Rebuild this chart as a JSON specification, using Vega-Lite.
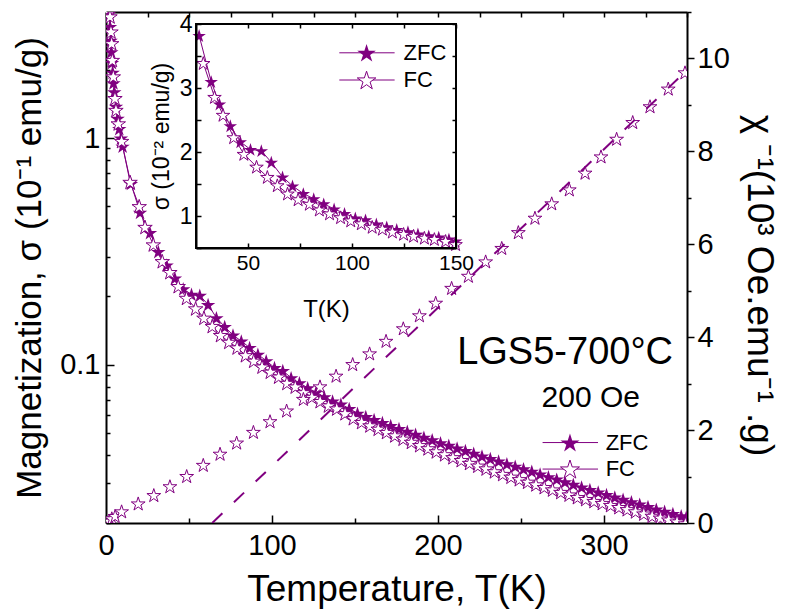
{
  "$schema": "https://vega.github.io/schema/vega-lite/v6.json",
  "width": 581,
  "height": 511,
  "autosize": {"type": "none"},
  "padding": {"left": 106, "top": 12, "right": 98, "bottom": 90},
  "background": "white",
  "config": {
    "view": {"stroke": null},
    "font": "Liberation Sans",
    "axis": {"grid": false, "domainColor": "black", "domainWidth": 2, "tickColor": "black", "tickWidth": 1.5, "labelColor": "black", "titleColor": "black", "titleFontWeight": "normal", "labelFont": "Liberation Sans", "titleFont": "Liberation Sans", "labelFontSize": 29, "titleFontSize": 35, "labelOverlap": false, "labelBound": false, "labelFlush": false},
    "text": {"font": "Liberation Sans", "color": "black"}
  },
  "datasets": {
    "zfc": [
      {"T": 2, "M": 3.55}, {"T": 2.4, "M": 3.1}, {"T": 2.8, "M": 2.7}, {"T": 3.2, "M": 2.4}, {"T": 3.6, "M": 2.15}, {"T": 4, "M": 1.95}, {"T": 4.5, "M": 1.75}, {"T": 5, "M": 1.6}, {"T": 6, "M": 1.38}, {"T": 7, "M": 1.22}, {"T": 8, "M": 1.1}, {"T": 9, "M": 1.0}, {"T": 10, "M": 0.92}, {"T": 15, "M": 0.63}, {"T": 20.5, "M": 0.47}, {"T": 26.5, "M": 0.382}, {"T": 31.5, "M": 0.315}, {"T": 36.5, "M": 0.275}, {"T": 41.5, "M": 0.241}, {"T": 46.5, "M": 0.216}, {"T": 51.5, "M": 0.204}, {"T": 56.5, "M": 0.202}, {"T": 61.5, "M": 0.184}, {"T": 66.5, "M": 0.161}, {"T": 71.5, "M": 0.147}, {"T": 76.5, "M": 0.135}, {"T": 81.5, "M": 0.127}, {"T": 86.5, "M": 0.119}, {"T": 91.5, "M": 0.111}, {"T": 96.5, "M": 0.104}, {"T": 101.5, "M": 0.097}, {"T": 106.5, "M": 0.094}, {"T": 111.5, "M": 0.0875}, {"T": 116.5, "M": 0.083}, {"T": 121.5, "M": 0.079}, {"T": 126.5, "M": 0.0755}, {"T": 131.5, "M": 0.072}, {"T": 136.5, "M": 0.069}, {"T": 141.5, "M": 0.067}, {"T": 146.5, "M": 0.064}, {"T": 151.5, "M": 0.061}, {"T": 156.5, "M": 0.059}, {"T": 161.5, "M": 0.0572}, {"T": 166.5, "M": 0.0555}, {"T": 171.5, "M": 0.0538}, {"T": 176.5, "M": 0.0522}, {"T": 181.5, "M": 0.0507}, {"T": 186.5, "M": 0.0492}, {"T": 191.5, "M": 0.0478}, {"T": 196.5, "M": 0.0465}, {"T": 201.5, "M": 0.0452}, {"T": 206.5, "M": 0.044}, {"T": 211.5, "M": 0.0428}, {"T": 216.5, "M": 0.0417}, {"T": 221.5, "M": 0.0406}, {"T": 226.5, "M": 0.0395}, {"T": 231.5, "M": 0.0385}, {"T": 236.5, "M": 0.0375}, {"T": 241.5, "M": 0.0365}, {"T": 246.5, "M": 0.0356}, {"T": 251.5, "M": 0.0347}, {"T": 256.5, "M": 0.0338}, {"T": 261.5, "M": 0.0329}, {"T": 266.5, "M": 0.032}, {"T": 271.5, "M": 0.0312}, {"T": 276.5, "M": 0.0304}, {"T": 281.5, "M": 0.0296}, {"T": 286.5, "M": 0.0288}, {"T": 291.5, "M": 0.0281}, {"T": 296.5, "M": 0.0274}, {"T": 301.5, "M": 0.0267}, {"T": 306.5, "M": 0.026}, {"T": 311.5, "M": 0.0254}, {"T": 316.5, "M": 0.0248}, {"T": 321.5, "M": 0.0242}, {"T": 326.5, "M": 0.0236}, {"T": 331.5, "M": 0.023}, {"T": 336.5, "M": 0.0225}, {"T": 341.5, "M": 0.022}, {"T": 346.5, "M": 0.0215}, {"T": 349.5, "M": 0.0212}
    ],
    "fc": [
      {"T": 2, "M": 3.75}, {"T": 2.4, "M": 3.44}, {"T": 3.0, "M": 2.95}, {"T": 3.4, "M": 2.62}, {"T": 3.8, "M": 2.21}, {"T": 4.4, "M": 1.87}, {"T": 5.4, "M": 1.5}, {"T": 6.0, "M": 1.33}, {"T": 7.4, "M": 1.16}, {"T": 9.4, "M": 0.97}, {"T": 14.5, "M": 0.64}, {"T": 20, "M": 0.5}, {"T": 23.5, "M": 0.405}, {"T": 28.5, "M": 0.339}, {"T": 33.9, "M": 0.286}, {"T": 38.5, "M": 0.256}, {"T": 43.5, "M": 0.222}, {"T": 48.5, "M": 0.197}, {"T": 54, "M": 0.177}, {"T": 59, "M": 0.161}, {"T": 64, "M": 0.148}, {"T": 69, "M": 0.135}, {"T": 74, "M": 0.126}, {"T": 79, "M": 0.119}, {"T": 84, "M": 0.11}, {"T": 89, "M": 0.104}, {"T": 94, "M": 0.098}, {"T": 99, "M": 0.093}, {"T": 104, "M": 0.0885}, {"T": 109, "M": 0.083}, {"T": 114, "M": 0.08}, {"T": 119, "M": 0.0755}, {"T": 124, "M": 0.072}, {"T": 129, "M": 0.069}, {"T": 134, "M": 0.066}, {"T": 139, "M": 0.064}, {"T": 144, "M": 0.061}, {"T": 149, "M": 0.058}, {"T": 154, "M": 0.0558}, {"T": 159, "M": 0.0539}, {"T": 164, "M": 0.0521}, {"T": 169, "M": 0.0504}, {"T": 174, "M": 0.0487}, {"T": 179, "M": 0.0471}, {"T": 184, "M": 0.0456}, {"T": 189, "M": 0.0441}, {"T": 194, "M": 0.0427}, {"T": 199, "M": 0.0414}, {"T": 204, "M": 0.0402}, {"T": 209, "M": 0.039}, {"T": 214, "M": 0.0379}, {"T": 219, "M": 0.0368}, {"T": 224, "M": 0.0358}, {"T": 229, "M": 0.0348}, {"T": 234, "M": 0.0338}, {"T": 239, "M": 0.0329}, {"T": 244, "M": 0.032}, {"T": 249, "M": 0.0312}, {"T": 254, "M": 0.0304}, {"T": 259, "M": 0.0296}, {"T": 264, "M": 0.0288}, {"T": 269, "M": 0.0281}, {"T": 274, "M": 0.0274}, {"T": 279, "M": 0.0267}, {"T": 284, "M": 0.026}, {"T": 289, "M": 0.0255}, {"T": 294, "M": 0.025}, {"T": 299, "M": 0.0245}, {"T": 304, "M": 0.024}, {"T": 309, "M": 0.0235}, {"T": 314, "M": 0.023}, {"T": 319, "M": 0.0225}, {"T": 324, "M": 0.022}, {"T": 329, "M": 0.0215}, {"T": 334, "M": 0.0211}, {"T": 339, "M": 0.0207}, {"T": 344, "M": 0.0203}, {"T": 349, "M": 0.0199}
    ],
    "chi": [
      {"T": 2, "C": 0.05}, {"T": 3.5, "C": 0.1}, {"T": 5.5, "C": 0.15}, {"T": 9.4, "C": 0.25}, {"T": 19.4, "C": 0.42}, {"T": 28.8, "C": 0.6}, {"T": 38.5, "C": 0.79}, {"T": 48.6, "C": 1.01}, {"T": 58.6, "C": 1.25}, {"T": 68.7, "C": 1.49}, {"T": 78.7, "C": 1.73}, {"T": 88.8, "C": 1.96}, {"T": 98.8, "C": 2.19}, {"T": 108.8, "C": 2.42}, {"T": 118.9, "C": 2.67}, {"T": 128.9, "C": 2.94}, {"T": 138.6, "C": 3.17}, {"T": 148.6, "C": 3.42}, {"T": 158.8, "C": 3.65}, {"T": 168.7, "C": 3.92}, {"T": 179.1, "C": 4.19}, {"T": 188.8, "C": 4.47}, {"T": 198.6, "C": 4.74}, {"T": 208.2, "C": 5.06}, {"T": 218.3, "C": 5.32}, {"T": 228.7, "C": 5.63}, {"T": 238.4, "C": 5.92}, {"T": 248.4, "C": 6.26}, {"T": 258.4, "C": 6.57}, {"T": 268.5, "C": 6.88}, {"T": 279.1, "C": 7.18}, {"T": 288.6, "C": 7.54}, {"T": 298.2, "C": 7.89}, {"T": 307.6, "C": 8.27}, {"T": 317.3, "C": 8.63}, {"T": 327.7, "C": 8.97}, {"T": 338.7, "C": 9.35}, {"T": 348.8, "C": 9.7}
    ],
    "fit": [{"T": 64, "C": 0}, {"T": 350, "C": 9.75}],
    "inzfc": [
      {"T": 26.5, "S": 3.82}, {"T": 32.3, "S": 3.1}, {"T": 36.3, "S": 2.75}, {"T": 41.5, "S": 2.41}, {"T": 46.3, "S": 2.16}, {"T": 51.2, "S": 2.04}, {"T": 56.4, "S": 2.02}, {"T": 61.2, "S": 1.84}, {"T": 66.6, "S": 1.61}, {"T": 71.4, "S": 1.47}, {"T": 76.6, "S": 1.35}, {"T": 81.6, "S": 1.27}, {"T": 86.4, "S": 1.19}, {"T": 91.4, "S": 1.11}, {"T": 96.4, "S": 1.04}, {"T": 101.6, "S": 0.97}, {"T": 106.5, "S": 0.94}, {"T": 111.7, "S": 0.875}, {"T": 116.7, "S": 0.83}, {"T": 121.5, "S": 0.79}, {"T": 126.9, "S": 0.755}, {"T": 131.7, "S": 0.72}, {"T": 136.9, "S": 0.69}, {"T": 141.7, "S": 0.67}, {"T": 146.6, "S": 0.64}, {"T": 149.8, "S": 0.61}
    ],
    "infc": [
      {"T": 28.5, "S": 3.39}, {"T": 33.9, "S": 2.86}, {"T": 38, "S": 2.58}, {"T": 43.1, "S": 2.23}, {"T": 48, "S": 1.97}, {"T": 54.1, "S": 1.77}, {"T": 59.3, "S": 1.61}, {"T": 64.1, "S": 1.48}, {"T": 69, "S": 1.35}, {"T": 74.1, "S": 1.26}, {"T": 79.5, "S": 1.19}, {"T": 84.3, "S": 1.1}, {"T": 89.2, "S": 1.04}, {"T": 94.5, "S": 0.98}, {"T": 99.4, "S": 0.93}, {"T": 104.5, "S": 0.885}, {"T": 109.7, "S": 0.83}, {"T": 114.6, "S": 0.8}, {"T": 119.4, "S": 0.755}, {"T": 124.8, "S": 0.72}, {"T": 129.6, "S": 0.69}, {"T": 134.8, "S": 0.66}, {"T": 139.6, "S": 0.64}, {"T": 145, "S": 0.61}, {"T": 149.8, "S": 0.56}
    ],
    "frame": [{"T": 25, "T2": 150, "S": 0.5, "S2": 4}],
    "annot": [{"T": 341.6, "M": 0.101, "label": "LGS5-700°C"}, {"T": 321.7, "M": 0.0652, "label": "200 Oe"}],
    "mleg": [{"T": 263, "T2": 296.4, "Tp": 279.5, "Tt": 301, "M": 0.0453, "label": "ZFC"}, {"T": 263, "T2": 296.4, "Tp": 279.5, "Tt": 301, "M": 0.0346, "label": "FC"}],
    "ileg": [{"T": 93.9, "T2": 120.5, "Tp": 107, "Tt": 124.8, "S": 3.55, "label": "ZFC"}, {"T": 93.9, "T2": 120.5, "Tp": 107, "Tt": 124.8, "S": 3.125, "label": "FC"}]
  },
  "layer": [
    {"data": {"name": "zfc"}, "mark": {"type": "line", "color": "#800080", "strokeWidth": 1, "clip": true},
     "encoding": {
       "x": {"field": "T", "type": "quantitative", "scale": {"domain": [0, 350], "nice": false, "zero": false},
         "axis": {"orient": "bottom", "title": "Temperature, T(K)", "titleFontSize": 37, "values": [0, 50, 100, 150, 200, 250, 300, 350], "labelExpr": "datum.value % 100 == 0 ? datum.label : ''", "tickSize": {"condition": {"test": "datum.value % 100 == 0", "value": -8}, "value": -5}, "labelPadding": 16, "titlePadding": 8}},
       "y": {"field": "M", "type": "quantitative", "scale": {"type": "log", "domain": [0.02, 3.6], "nice": false},
         "axis": {"orient": "left", "title": "Magnetization, σ (10⁻¹ emu/g)", "values": [0.02, 0.03, 0.04, 0.05, 0.06, 0.07, 0.08, 0.09, 0.1, 0.2, 0.3, 0.4, 0.5, 0.6, 0.7, 0.8, 0.9, 1, 2, 3], "labelExpr": "datum.value == 1 ? '1' : datum.value == 0.1 ? '0.1' : ''", "tickSize": {"condition": {"test": "datum.value == 1 || datum.value == 0.1", "value": -8}, "value": -4}, "labelPadding": 14, "titlePadding": 12}}
     }},
    {"data": {"name": "zfc"}, "mark": {"type": "point", "shape": "M0,-0.905L0.2245,-0.214L0.951,-0.214L0.363,0.213L0.588,0.904L0,0.477L-0.588,0.904L-0.363,0.213L-0.951,-0.214L-0.2245,-0.214Z", "filled": true, "color": "#800080", "size": 230, "opacity": 1, "clip": true},
     "encoding": {
       "x": {"field": "T", "type": "quantitative", "scale": {"domain": [0, 350], "nice": false, "zero": false}, "axis": null},
       "y": {"field": "M", "type": "quantitative", "scale": {"type": "log", "domain": [0.02, 3.6], "nice": false}, "axis": null}
     }},
    {"data": {"name": "fc"}, "mark": {"type": "line", "color": "#800080", "strokeWidth": 1, "clip": true},
     "encoding": {
       "x": {"field": "T", "type": "quantitative", "scale": {"domain": [0, 350], "nice": false, "zero": false}, "axis": null},
       "y": {"field": "M", "type": "quantitative", "scale": {"type": "log", "domain": [0.02, 3.6], "nice": false}, "axis": null}
     }},
    {"data": {"name": "fc"}, "mark": {"type": "point", "shape": "M0,-0.905L0.2245,-0.214L0.951,-0.214L0.363,0.213L0.588,0.904L0,0.477L-0.588,0.904L-0.363,0.213L-0.951,-0.214L-0.2245,-0.214Z", "filled": true, "fill": "white", "stroke": "#800080", "strokeWidth": 1, "size": 230, "opacity": 1, "clip": true},
     "encoding": {
       "x": {"field": "T", "type": "quantitative", "scale": {"domain": [0, 350], "nice": false, "zero": false}, "axis": null},
       "y": {"field": "M", "type": "quantitative", "scale": {"type": "log", "domain": [0.02, 3.6], "nice": false}, "axis": null}
     }},
    {"data": {"name": "annot"}, "transform": [{"filter": "datum.label == 'LGS5-700°C'"}], "mark": {"type": "text", "fontSize": 38, "align": "right", "baseline": "alphabetic"},
     "encoding": {
       "x": {"field": "T", "type": "quantitative", "scale": {"domain": [0, 350], "nice": false, "zero": false}, "axis": null},
       "y": {"field": "M", "type": "quantitative", "scale": {"type": "log", "domain": [0.02, 3.6], "nice": false}, "axis": null},
       "text": {"field": "label"}
     }},
    {"data": {"name": "annot"}, "transform": [{"filter": "datum.label == '200 Oe'"}], "mark": {"type": "text", "fontSize": 30, "align": "right", "baseline": "alphabetic"},
     "encoding": {
       "x": {"field": "T", "type": "quantitative", "scale": {"domain": [0, 350], "nice": false, "zero": false}, "axis": null},
       "y": {"field": "M", "type": "quantitative", "scale": {"type": "log", "domain": [0.02, 3.6], "nice": false}, "axis": null},
       "text": {"field": "label"}
     }},
    {"data": {"name": "mleg"}, "mark": {"type": "rule", "color": "#800080", "strokeWidth": 1},
     "encoding": {
       "x": {"field": "T", "type": "quantitative", "scale": {"domain": [0, 350], "nice": false, "zero": false}, "axis": null},
       "x2": {"field": "T2"},
       "y": {"field": "M", "type": "quantitative", "scale": {"type": "log", "domain": [0.02, 3.6], "nice": false}, "axis": null}
     }},
    {"data": {"name": "mleg"}, "transform": [{"filter": "datum.label == 'ZFC'"}], "mark": {"type": "point", "shape": "M0,-0.905L0.2245,-0.214L0.951,-0.214L0.363,0.213L0.588,0.904L0,0.477L-0.588,0.904L-0.363,0.213L-0.951,-0.214L-0.2245,-0.214Z", "filled": true, "color": "#800080", "size": 400, "opacity": 1},
     "encoding": {
       "x": {"field": "Tp", "type": "quantitative", "scale": {"domain": [0, 350], "nice": false, "zero": false}, "axis": null},
       "y": {"field": "M", "type": "quantitative", "scale": {"type": "log", "domain": [0.02, 3.6], "nice": false}, "axis": null}
     }},
    {"data": {"name": "mleg"}, "transform": [{"filter": "datum.label == 'FC'"}], "mark": {"type": "point", "shape": "M0,-0.905L0.2245,-0.214L0.951,-0.214L0.363,0.213L0.588,0.904L0,0.477L-0.588,0.904L-0.363,0.213L-0.951,-0.214L-0.2245,-0.214Z", "filled": true, "fill": "white", "stroke": "#800080", "strokeWidth": 1, "size": 400, "opacity": 1},
     "encoding": {
       "x": {"field": "Tp", "type": "quantitative", "scale": {"domain": [0, 350], "nice": false, "zero": false}, "axis": null},
       "y": {"field": "M", "type": "quantitative", "scale": {"type": "log", "domain": [0.02, 3.6], "nice": false}, "axis": null}
     }},
    {"data": {"name": "mleg"}, "mark": {"type": "text", "fontSize": 22, "align": "left", "baseline": "middle"},
     "encoding": {
       "x": {"field": "Tt", "type": "quantitative", "scale": {"domain": [0, 350], "nice": false, "zero": false}, "axis": null},
       "y": {"field": "M", "type": "quantitative", "scale": {"type": "log", "domain": [0.02, 3.6], "nice": false}, "axis": null},
       "text": {"field": "label"}
     }},
    {"data": {"name": "chi"}, "mark": {"type": "point", "shape": "M0,-0.905L0.2245,-0.214L0.951,-0.214L0.363,0.213L0.588,0.904L0,0.477L-0.588,0.904L-0.363,0.213L-0.951,-0.214L-0.2245,-0.214Z", "filled": true, "fill": "white", "stroke": "#800080", "strokeWidth": 1, "size": 210, "opacity": 1, "clip": true},
     "encoding": {
       "x": {"field": "T", "type": "quantitative", "scale": {"domain": [0, 350], "nice": false, "zero": false},
         "axis": {"orient": "top", "title": null, "values": [0, 25, 50, 75, 100, 125, 150, 175, 200, 225, 250, 275, 300, 325, 350], "labels": false, "tickSize": -5}},
       "y": {"field": "C", "type": "quantitative", "scale": {"domain": [0, 11], "nice": false, "zero": false},
         "axis": {"orient": "right", "title": "χ ⁻¹(10³ Oe.emu⁻¹ .g)", "titleFontSize": 37, "titleY": 273, "values": [0, 1, 2, 3, 4, 5, 6, 7, 8, 9, 10, 11], "labelExpr": "datum.value % 2 == 0 ? datum.label : ''", "tickSize": {"condition": {"test": "datum.value % 2 == 0", "value": 7}, "value": 4}, "labelPadding": 3, "titlePadding": 10}}
     }},
    {"data": {"name": "fit"}, "mark": {"type": "line", "color": "#800080", "strokeWidth": 2, "strokeDash": [14, 16], "clip": true},
     "encoding": {
       "x": {"field": "T", "type": "quantitative", "scale": {"domain": [0, 350], "nice": false, "zero": false}, "axis": null},
       "y": {"field": "C", "type": "quantitative", "scale": {"domain": [0, 11], "nice": false, "zero": false}, "axis": null}
     }},
    {"data": {"name": "frame"}, "mark": {"type": "rect", "fill": "white"},
     "encoding": {
       "x": {"field": "T", "type": "quantitative", "scale": {"domain": [25, 150], "range": [90, 350], "nice": false, "zero": false},
         "axis": {"orient": "bottom", "offset": -275, "zindex": 1, "title": "T(K)", "titleFontSize": 24, "labelFontSize": 21, "values": [50, 75, 100, 125, 150], "labelExpr": "datum.value % 50 == 0 ? datum.label : ''", "tickSize": -5, "labelPadding": 9, "titlePadding": 24}},
       "x2": {"field": "T2"},
       "y": {"field": "S", "type": "quantitative", "scale": {"domain": [0.5, 4], "range": [236, 12], "nice": false, "zero": false},
         "axis": {"orient": "left", "offset": -90, "zindex": 1, "title": "σ (10⁻² emu/g)", "titleFontSize": 23, "labelFontSize": 23, "values": [0.5, 1, 1.5, 2, 2.5, 3, 3.5, 4], "labelExpr": "datum.value % 1 == 0 ? format(datum.value, 'd') : ''", "tickSize": -5, "labelPadding": 9, "titlePadding": 6}},
       "y2": {"field": "S2"}
     }},
    {"data": {"name": "inzfc"}, "mark": {"type": "line", "color": "#800080", "strokeWidth": 1},
     "encoding": {
       "x": {"field": "T", "type": "quantitative", "scale": {"domain": [25, 150], "range": [90, 350], "nice": false, "zero": false}, "axis": null},
       "y": {"field": "S", "type": "quantitative", "scale": {"domain": [0.5, 4], "range": [236, 12], "nice": false, "zero": false}, "axis": null}
     }},
    {"data": {"name": "inzfc"}, "mark": {"type": "point", "shape": "M0,-0.905L0.2245,-0.214L0.951,-0.214L0.363,0.213L0.588,0.904L0,0.477L-0.588,0.904L-0.363,0.213L-0.951,-0.214L-0.2245,-0.214Z", "filled": true, "color": "#800080", "size": 200, "opacity": 1},
     "encoding": {
       "x": {"field": "T", "type": "quantitative", "scale": {"domain": [25, 150], "range": [90, 350], "nice": false, "zero": false}, "axis": null},
       "y": {"field": "S", "type": "quantitative", "scale": {"domain": [0.5, 4], "range": [236, 12], "nice": false, "zero": false}, "axis": null}
     }},
    {"data": {"name": "infc"}, "mark": {"type": "line", "color": "#800080", "strokeWidth": 1},
     "encoding": {
       "x": {"field": "T", "type": "quantitative", "scale": {"domain": [25, 150], "range": [90, 350], "nice": false, "zero": false}, "axis": null},
       "y": {"field": "S", "type": "quantitative", "scale": {"domain": [0.5, 4], "range": [236, 12], "nice": false, "zero": false}, "axis": null}
     }},
    {"data": {"name": "infc"}, "mark": {"type": "point", "shape": "M0,-0.905L0.2245,-0.214L0.951,-0.214L0.363,0.213L0.588,0.904L0,0.477L-0.588,0.904L-0.363,0.213L-0.951,-0.214L-0.2245,-0.214Z", "filled": true, "fill": "white", "stroke": "#800080", "strokeWidth": 1, "size": 200, "opacity": 1},
     "encoding": {
       "x": {"field": "T", "type": "quantitative", "scale": {"domain": [25, 150], "range": [90, 350], "nice": false, "zero": false}, "axis": null},
       "y": {"field": "S", "type": "quantitative", "scale": {"domain": [0.5, 4], "range": [236, 12], "nice": false, "zero": false}, "axis": null}
     }},
    {"data": {"name": "ileg"}, "mark": {"type": "rule", "color": "#800080", "strokeWidth": 1},
     "encoding": {
       "x": {"field": "T", "type": "quantitative", "scale": {"domain": [25, 150], "range": [90, 350], "nice": false, "zero": false}, "axis": null},
       "x2": {"field": "T2"},
       "y": {"field": "S", "type": "quantitative", "scale": {"domain": [0.5, 4], "range": [236, 12], "nice": false, "zero": false}, "axis": null}
     }},
    {"data": {"name": "ileg"}, "transform": [{"filter": "datum.label == 'ZFC'"}], "mark": {"type": "point", "shape": "M0,-0.905L0.2245,-0.214L0.951,-0.214L0.363,0.213L0.588,0.904L0,0.477L-0.588,0.904L-0.363,0.213L-0.951,-0.214L-0.2245,-0.214Z", "filled": true, "color": "#800080", "size": 380, "opacity": 1},
     "encoding": {
       "x": {"field": "Tp", "type": "quantitative", "scale": {"domain": [25, 150], "range": [90, 350], "nice": false, "zero": false}, "axis": null},
       "y": {"field": "S", "type": "quantitative", "scale": {"domain": [0.5, 4], "range": [236, 12], "nice": false, "zero": false}, "axis": null}
     }},
    {"data": {"name": "ileg"}, "transform": [{"filter": "datum.label == 'FC'"}], "mark": {"type": "point", "shape": "M0,-0.905L0.2245,-0.214L0.951,-0.214L0.363,0.213L0.588,0.904L0,0.477L-0.588,0.904L-0.363,0.213L-0.951,-0.214L-0.2245,-0.214Z", "filled": true, "fill": "white", "stroke": "#800080", "strokeWidth": 1, "size": 380, "opacity": 1},
     "encoding": {
       "x": {"field": "Tp", "type": "quantitative", "scale": {"domain": [25, 150], "range": [90, 350], "nice": false, "zero": false}, "axis": null},
       "y": {"field": "S", "type": "quantitative", "scale": {"domain": [0.5, 4], "range": [236, 12], "nice": false, "zero": false}, "axis": null}
     }},
    {"data": {"name": "ileg"}, "mark": {"type": "text", "fontSize": 22, "align": "left", "baseline": "middle"},
     "encoding": {
       "x": {"field": "Tt", "type": "quantitative", "scale": {"domain": [25, 150], "range": [90, 350], "nice": false, "zero": false}, "axis": null},
       "y": {"field": "S", "type": "quantitative", "scale": {"domain": [0.5, 4], "range": [236, 12], "nice": false, "zero": false}, "axis": null},
       "text": {"field": "label"}
     }},
    {"data": {"name": "frame"}, "mark": {"type": "rect", "filled": false, "stroke": "black", "strokeWidth": 2},
     "encoding": {
       "x": {"field": "T", "type": "quantitative", "scale": {"domain": [25, 150], "range": [90, 350], "nice": false, "zero": false},
         "axis": {"orient": "top", "offset": -12, "zindex": 1, "title": null, "labels": false, "domain": false, "values": [50, 75, 100, 125, 150], "tickSize": -4}},
       "x2": {"field": "T2"},
       "y": {"field": "S", "type": "quantitative", "scale": {"domain": [0.5, 4], "range": [236, 12], "nice": false, "zero": false},
         "axis": {"orient": "right", "offset": -231, "zindex": 1, "title": null, "labels": false, "domain": false, "values": [0.5, 1, 1.5, 2, 2.5, 3, 3.5, 4], "tickSize": -4}},
       "y2": {"field": "S2"}
     }}
  ],
  "resolve": {"scale": {"x": "independent", "y": "independent"}, "axis": {"x": "independent", "y": "independent"}}
}
